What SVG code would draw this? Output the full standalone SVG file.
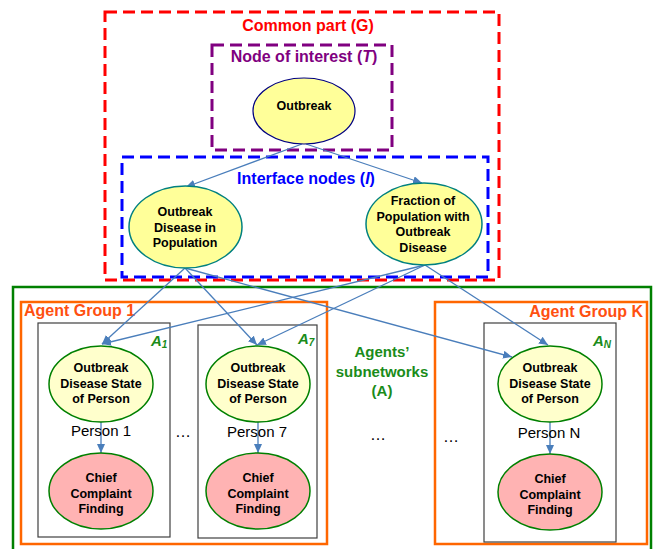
<svg xmlns="http://www.w3.org/2000/svg" width="655" height="549" viewBox="0 0 655 549">
<style>
text{font-family:"Liberation Sans",Arial,sans-serif}
.dash{fill:none;stroke-width:3;stroke-dasharray:12 6}
.title{font-size:16px;font-weight:bold;text-anchor:middle}
.node{font-size:12.5px;font-weight:bold;text-anchor:middle;fill:#000}
.person{font-size:15px;text-anchor:middle;fill:#000}
.grp{font-size:16px;font-weight:bold;fill:#FF5010}
.agent{font-size:15px;font-weight:bold;font-style:italic;fill:#1A8C1A}
.sub{font-size:10px}
.gbox{fill:none;stroke:#404040;stroke-width:1.2}
.obox{fill:none;stroke:#FF6600;stroke-width:2.5}
.edge{fill:none;stroke:#4A7EBB;stroke-width:1.3;marker-end:url(#ah)}
.yel{fill:#FFFF99}
.pyel{fill:#FFFFCC;stroke:#008000;stroke-width:1.5}
.pink{fill:#FFB3B3;stroke:#008000;stroke-width:1.5}
.dots{font-size:16px;text-anchor:middle;fill:#000}
</style>
<defs>
<marker id="ah" markerWidth="9" markerHeight="8" refX="9" refY="4" orient="auto" markerUnits="userSpaceOnUse">
<path d="M0,0 L9,4 L0,8 z" fill="#4A7EBB"/>
</marker>
</defs>
<rect width="655" height="549" fill="#fff"/>

<g id="boxes">
<rect id="agents-box" x="13" y="287" width="638" height="270" fill="none" stroke="#008000" stroke-width="2.5"/>
<rect id="common-box" class="dash" x="105" y="12" width="394" height="268" stroke="#FF0000"/>
<rect id="interest-box" class="dash" x="212" y="45" width="180" height="105" stroke="#800080"/>
<rect id="interface-box" class="dash" x="122" y="157" width="366" height="120" stroke="#0000FF"/>
<rect id="group1-box" class="obox" x="21" y="302" width="306" height="242"/>
<rect id="groupK-box" class="obox" x="435" y="302" width="212" height="242"/>
<rect id="p1-box" class="gbox" x="38" y="323" width="132" height="214"/>
<rect id="p7-box" class="gbox" x="198" y="325" width="119" height="213"/>
<rect id="pN-box" class="gbox" x="484" y="323" width="132" height="219"/>
</g>

<g id="labels">
<text class="title" x="308" y="31" fill="#FF0000">Common part (G)</text>
<text class="title" x="304" y="62" fill="#800080">Node of interest (<tspan font-style="italic">T</tspan>)</text>
<text class="title" x="306" y="184" fill="#0000FF">Interface nodes (<tspan font-style="italic">I</tspan>)</text>
<text class="grp" x="24" y="316">Agent Group 1</text>
<text class="grp" x="643" y="317" text-anchor="end">Agent Group K</text>
<text class="agent" x="151" y="346">A<tspan class="sub" dy="2">1</tspan></text>
<text class="agent" x="298" y="344">A<tspan class="sub" dy="2">7</tspan></text>
<text class="agent" x="593" y="346">A<tspan class="sub" dy="2">N</tspan></text>
<text x="382" y="357" font-size="15" font-weight="bold" fill="#1A8C1A" text-anchor="middle">Agents’<tspan x="382" dy="19.5">subnetworks</tspan><tspan x="382" dy="19.5">(A)</tspan></text>
<text class="dots" x="183" y="437">…</text>
<text class="dots" x="378" y="440">…</text>
<text class="dots" x="451" y="442">…</text>
</g>

<g id="connectors">
<line class="edge" x1="302" y1="144" x2="186" y2="187"/>
<line class="edge" x1="306" y1="144" x2="422" y2="183"/>
<line class="edge" x1="185" y1="268" x2="102" y2="344"/>
<line class="edge" x1="185" y1="268" x2="257" y2="345"/>
<line class="edge" x1="185" y1="268" x2="512" y2="357"/>
<line class="edge" x1="425" y1="265" x2="102" y2="344"/>
<line class="edge" x1="425" y1="265" x2="257" y2="345"/>
<line class="edge" x1="425" y1="265" x2="548" y2="345"/>
<line class="edge" x1="101" y1="422" x2="101" y2="453"/>
<line class="edge" x1="258" y1="422" x2="258" y2="453"/>
<line class="edge" x1="550" y1="422" x2="550" y2="454"/>
</g>

<g id="outbreak">
<ellipse class="yel" cx="304" cy="111" rx="51" ry="33" stroke="#000080" stroke-width="1.2"/>
<text class="node" x="304" y="110">Outbreak</text>
</g>
<g id="odp">
<ellipse class="yel" cx="185.5" cy="227" rx="56.5" ry="41" stroke="#008080" stroke-width="1.5"/>
<text class="node" x="185" y="216">Outbreak<tspan x="185" dy="15.7">Disease in</tspan><tspan x="185" dy="15.7">Population</tspan></text>
</g>
<g id="fraction">
<ellipse class="yel" cx="424" cy="224" rx="58" ry="41" stroke="#008080" stroke-width="1.5"/>
<text class="node" x="423" y="205">Fraction of<tspan x="423" dy="15.7">Population with</tspan><tspan x="423" dy="15.7">Outbreak</tspan><tspan x="423" dy="15.7">Disease</tspan></text>
</g>

<g id="person1">
<ellipse class="pyel" cx="101" cy="384" rx="52" ry="38"/>
<text class="node" x="101" y="372">Outbreak<tspan x="101" dy="15.5">Disease State</tspan><tspan x="101" dy="15.5">of Person</tspan></text>
<text class="person" x="101" y="436">Person 1</text>
</g>
<g id="cc1">
<ellipse class="pink" cx="101" cy="491" rx="52" ry="38"/>
<text class="node" x="101" y="482">Chief<tspan x="101" dy="15.5">Complaint</tspan><tspan x="101" dy="15.5">Finding</tspan></text>
</g>

<g id="person7">
<ellipse class="pyel" cx="258" cy="384" rx="52" ry="38"/>
<text class="node" x="258" y="372">Outbreak<tspan x="258" dy="15.5">Disease State</tspan><tspan x="258" dy="15.5">of Person</tspan></text>
<text class="person" x="257" y="437">Person 7</text>
</g>
<g id="cc7">
<ellipse class="pink" cx="258" cy="491" rx="52" ry="38"/>
<text class="node" x="258" y="482">Chief<tspan x="258" dy="15.5">Complaint</tspan><tspan x="258" dy="15.5">Finding</tspan></text>
</g>

<g id="personN">
<ellipse class="pyel" cx="550" cy="384" rx="52" ry="38"/>
<text class="node" x="550" y="372">Outbreak<tspan x="550" dy="15.5">Disease State</tspan><tspan x="550" dy="15.5">of Person</tspan></text>
<text class="person" x="549" y="438">Person N</text>
</g>
<g id="ccN">
<ellipse class="pink" cx="550" cy="492" rx="52" ry="38"/>
<text class="node" x="550" y="483">Chief<tspan x="550" dy="15.5">Complaint</tspan><tspan x="550" dy="15.5">Finding</tspan></text>
</g>
</svg>
